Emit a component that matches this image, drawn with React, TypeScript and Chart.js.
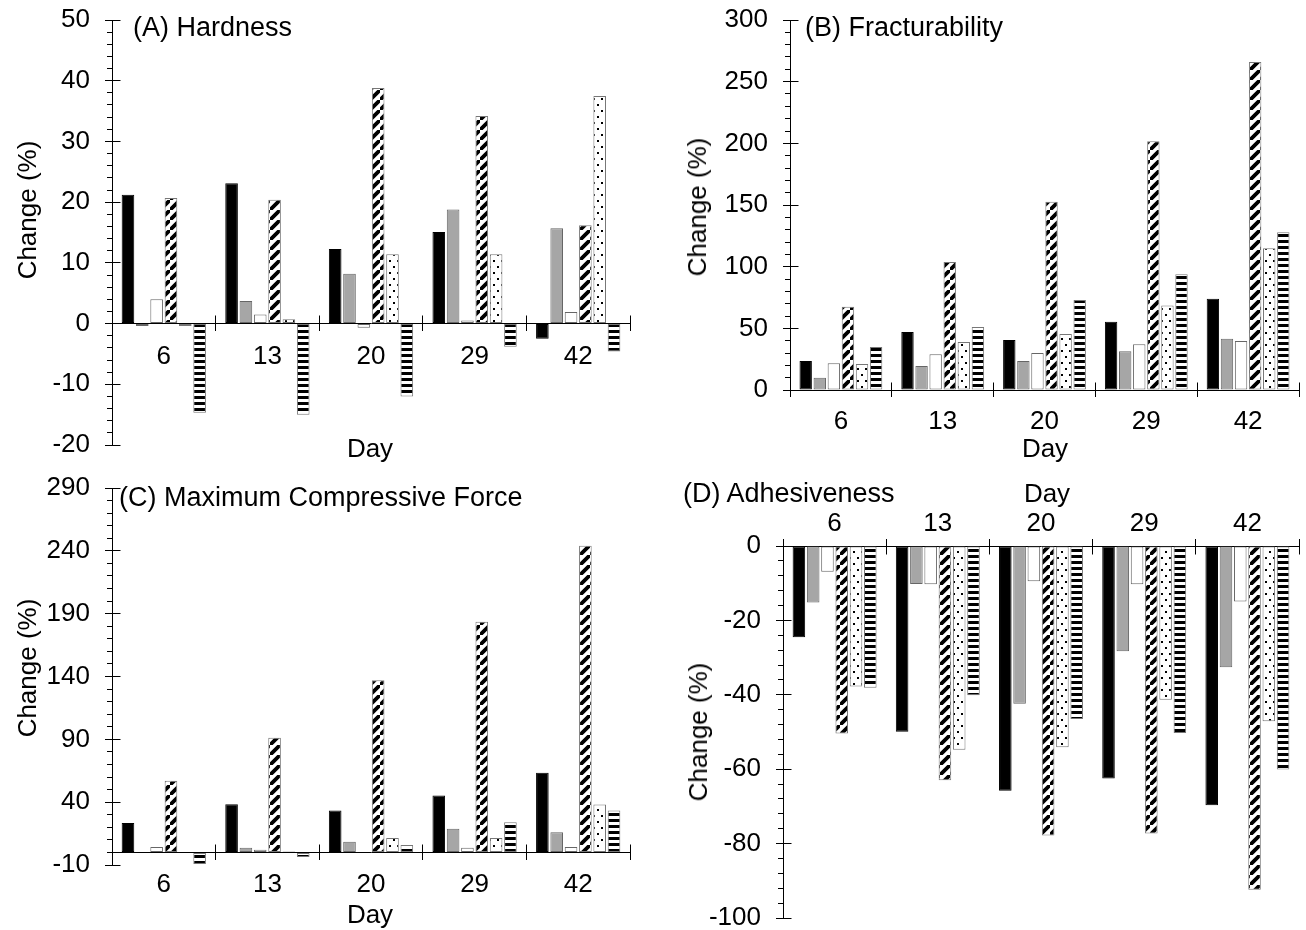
import React, { useEffect, useRef } from 'react';
import { Chart, registerables } from 'chart.js';

Chart.register(...registerables);

// ---------- data ----------
const days = ['6', '13', '20', '29', '42'];

// (A) Hardness
const hardBlack = [21.2, 23.1, 12.3, 15.1, -2.5];
const hardGray = [-0.4, 3.7, 8.2, 18.8, 15.7];
const hardWhite = [4.0, 1.5, -0.7, 0.5, 1.9];
const hardHatch = [20.7, 20.4, 38.8, 34.2, 16.2];
const hardDots = [-0.4, 0.7, 11.4, 11.4, 37.5];
const hardStripes = [-14.7, -15.0, -12.0, -3.8, -4.6];

// (B) Fracturability
const fracBlack = [23.5, 47, 40.5, 55.4, 74];
const fracGray = [10, 19.5, 23.5, 31.4, 41.6];
const fracWhite = [21.6, 28.9, 30, 37, 39.7];
const fracHatch = [67.6, 103.8, 152.7, 201.6, 266];
const fracDots = [21.1, 38.9, 45.4, 68.6, 115];
const fracStripes = [34.9, 51.1, 73, 93.8, 128];

// (C) Maximum Compressive Force
const mcfBlack = [23.5, 38.4, 33.3, 45.3, 63.5];
const mcfGray = [-0.5, 3.7, 8.5, 18.9, 16];
const mcfWhite = [4.3, 2.1, -0.5, 3.7, 4.3];
const mcfHatch = [57, 91.2, 137, 183.5, 244];
const mcfDots = [-0.5, 0.8, 11.5, 11.5, 38.1];
const mcfStripes = [-9.3, -3.7, 5.9, 24, 33.3];

// (D) Adhesiveness
const adhBlack = [-24.5, -49.9, -65.8, -62.5, -69.7];
const adhGray = [-15.2, -10.2, -42.4, -28.3, -32.6];
const adhWhite = [-6.9, -10.3, -9.5, -10.3, -14.9];
const adhHatch = [-50.4, -63, -77.8, -77.3, -92.4];
const adhDots = [-37.8, -54.8, -54.1, -41.3, -47.1];
const adhStripes = [-38.1, -40.1, -46.5, -50.3, -60.1];

// axis ranges / ticks
const hardTicks = { min: -20, max: 50, step: 2, majorStep: 10 };
const fracTicks = { min: 0, max: 300, step: 10, majorStep: 50 };
const mcfTicks = { min: -10, max: 290, step: 10, majorStep: 50 };
const adhTicks = { min: -100, max: 0, step: 4, majorStep: 20 };

const FONT = "'Liberation Sans', Arial, Helvetica, sans-serif";
const FS = 26;
const TITLE_FS = 27;

// ---------- patterns ----------
function makePatterns() {
  const base = document.createElement('canvas').getContext('2d') as CanvasRenderingContext2D;

  const H = 10;
  const h = document.createElement('canvas');
  h.width = H; h.height = H;
  const hg = h.getContext('2d') as CanvasRenderingContext2D;
  hg.fillStyle = '#fff'; hg.fillRect(0, 0, H, H);
  hg.strokeStyle = '#000'; hg.lineWidth = 3.8;
  hg.beginPath();
  hg.moveTo(-H, 2 * H); hg.lineTo(2 * H, -H);
  hg.moveTo(-2 * H, H); hg.lineTo(H, -2 * H);
  hg.moveTo(0, 3 * H); hg.lineTo(3 * H, 0);
  hg.stroke();

  const d = document.createElement('canvas');
  d.width = 8; d.height = 12;
  const dg = d.getContext('2d') as CanvasRenderingContext2D;
  dg.fillStyle = '#fff'; dg.fillRect(0, 0, 8, 12);
  dg.fillStyle = '#000';
  dg.fillRect(1, 2, 2, 2);
  dg.fillRect(5, 8, 2, 2);

  const s = document.createElement('canvas');
  s.width = 4; s.height = 6;
  const sg = s.getContext('2d') as CanvasRenderingContext2D;
  sg.fillStyle = '#fff'; sg.fillRect(0, 0, 4, 6);
  sg.fillStyle = '#000'; sg.fillRect(0, 0, 4, 3);

  return {
    hatch: base.createPattern(h, 'repeat'),
    dots: base.createPattern(d, 'repeat'),
    stripes: base.createPattern(s, 'repeat'),
  };
}

const al = (p: number) => Math.round(p - 0.5) + 0.5;

const crossTicks = {
  id: 'crossTicks',
  afterDraw(chart: any, _a: any, opts: any) {
    const { ctx, chartArea } = chart;
    const x = chart.scales.x;
    const y = chart.scales.y;
    ctx.save();
    ctx.strokeStyle = '#000';
    ctx.lineWidth = 1;
    ctx.beginPath();
    const ax = al(chartArea.left);
    const t = opts.ticks;
    for (let v = t.min; v <= t.max + 1e-9; v += t.majorStep) {
      const py = al(y.getPixelForValue(v));
      ctx.moveTo(ax - 7.5, py);
      ctx.lineTo(ax + 8, py);
    }
    const py0 = al(y.getPixelForValue(0));
    for (let i = 0; i <= days.length; i++) {
      const px = al(x.getPixelForValue(i - 0.5));
      ctx.moveTo(px, py0);
      ctx.lineTo(px, py0 + opts.dir * 8);
    }
    ctx.stroke();
    ctx.restore();
  },
};

type Panel = {
  left: number; top: number; width: number; height: number;
  yWidth: number; xHeight?: number;
  padding: { top: number; right: number; bottom: number; left: number };
  ticks: { min: number; max: number; step: number; majorStep: number };
  xPos: any; xPad: number; dir: number;
  series: number[][];
};

const panels: Panel[] = [
  {
    left: 0, top: 0, width: 660, height: 465, yWidth: 112,
    padding: { top: 20, right: 30, bottom: 20, left: 0 },
    ticks: hardTicks, xPos: { y: 0 }, xPad: 13, dir: -1,
    series: [hardBlack, hardGray, hardWhite, hardHatch, hardDots, hardStripes],
  },
  {
    left: 660, top: 0, width: 646, height: 465, yWidth: 130, xHeight: 75,
    padding: { top: 20, right: 7, bottom: 0, left: 0 },
    ticks: fracTicks, xPos: 'bottom', xPad: 12, dir: -1,
    series: [fracBlack, fracGray, fracWhite, fracHatch, fracDots, fracStripes],
  },
  {
    left: 0, top: 465, width: 660, height: 465, yWidth: 112,
    padding: { top: 23, right: 30, bottom: 65, left: 0 },
    ticks: mcfTicks, xPos: { y: 0 }, xPad: 12, dir: -1,
    series: [mcfBlack, mcfGray, mcfWhite, mcfHatch, mcfDots, mcfStripes],
  },
  {
    left: 660, top: 465, width: 646, height: 465, yWidth: 123, xHeight: 81,
    padding: { top: 0, right: 7, bottom: 12, left: 0 },
    ticks: adhTicks, xPos: 'top', xPad: 2, dir: 1,
    series: [adhBlack, adhGray, adhWhite, adhHatch, adhDots, adhStripes],
  },
];

function PanelChart({ p }: { p: Panel }) {
  const ref = useRef<HTMLCanvasElement | null>(null);
  useEffect(() => {
    const pat = makePatterns();
    const fills: any[] = ['#000000', '#a6a6a6', '#ffffff', pat.hatch, pat.dots, pat.stripes];
    const borders = ['#000000', '#666666', '#666666', '#777777', '#777777', '#777777'];
    const t = p.ticks;
    const isMajor = (v: number) => Math.abs(((v - t.min) / t.majorStep) - Math.round((v - t.min) / t.majorStep)) < 1e-6;
    const chart = new Chart(ref.current as HTMLCanvasElement, {
      type: 'bar',
      data: {
        labels: days,
        datasets: p.series.map((vals, i) => ({
          data: vals,
          backgroundColor: fills[i],
          borderColor: borders[i],
          borderWidth: 1,
          borderSkipped: false,
          categoryPercentage: 0.83,
          barPercentage: 0.88,
        })),
      },
      options: {
        responsive: false,
        animation: false,
        devicePixelRatio: 1,
        events: [],
        layout: { padding: p.padding },
        plugins: {
          legend: { display: false },
          tooltip: { enabled: false },
          title: { display: false },
          crossTicks: { ticks: t, dir: p.dir },
        } as any,
        scales: {
          x: {
            type: 'category',
            position: p.xPos,
            offset: true,
            grid: { display: true, offset: true, drawOnChartArea: false, drawTicks: true, tickLength: 7, color: '#000', lineWidth: 1 },
            border: { display: true, color: '#000', width: 1 },
            ticks: { color: '#000', font: { family: FONT, size: FS, lineHeight: 1 }, padding: p.xPad, maxRotation: 0, autoSkip: false },
            afterFit: (s: any) => {
              s.paddingLeft = 0; s.paddingRight = 0;
              if (p.xHeight) s.height = p.xHeight;
            },
          } as any,
          y: {
            type: 'linear',
            min: t.min,
            max: t.max,
            position: 'left',
            grid: { display: true, drawOnChartArea: false, drawTicks: true, tickLength: 5, color: '#000', lineWidth: 1 },
            border: { display: true, color: '#000', width: 1 },
            ticks: {
              stepSize: t.step,
              autoSkip: false,
              maxTicksLimit: 1000,
              color: '#000',
              font: { family: FONT, size: FS, lineHeight: 1 },
              padding: 17,
              callback: (v: any) => (isMajor(Number(v)) ? String(Math.round(Number(v))) : ''),
            },
            afterFit: (s: any) => {
              s.width = p.yWidth; s.paddingTop = 0; s.paddingBottom = 0;
            },
          } as any,
        },
      },
      plugins: [crossTicks as any],
    });
    return () => chart.destroy();
  }, []);
  return (
    <canvas
      ref={ref}
      width={p.width}
      height={p.height}
      style={{ position: 'absolute', left: p.left, top: p.top, width: p.width, height: p.height }}
    />
  );
}

const txt: React.CSSProperties = {
  position: 'absolute',
  fontFamily: FONT,
  lineHeight: 1,
  color: '#000',
  whiteSpace: 'nowrap',
};

function Label({ x, y, text, rotate, anchor, size }: { x: number; y: number; text: string; rotate?: boolean; anchor?: 'left' | 'center'; size?: number }) {
  const tx = anchor === 'left' ? '0' : '-50%';
  return (
    <div style={{ ...txt, fontSize: size || FS, left: x, top: y, transform: `translate(${tx}, -50%)${rotate ? ' rotate(-90deg)' : ''}`, transformOrigin: rotate ? '50% 50%' : undefined }}>
      {text}
    </div>
  );
}

export default function App() {
  return (
    <div style={{ position: 'absolute', left: 0, top: 0, width: 1306, height: 930, background: '#fff', overflow: 'hidden' }}>
      {panels.map((p, i) => <PanelChart key={i} p={p} />)}
      <Label x={133} y={27} text="(A) Hardness" anchor="left" size={TITLE_FS} />
      <Label x={805} y={27} text="(B) Fracturability" anchor="left" size={TITLE_FS} />
      <Label x={119} y={497} text="(C) Maximum Compressive Force" anchor="left" size={TITLE_FS} />
      <Label x={683} y={493} text="(D) Adhesiveness" anchor="left" size={TITLE_FS} />
      <Label x={370} y={448} text="Day" />
      <Label x={1045} y={448} text="Day" />
      <Label x={370} y={914} text="Day" />
      <Label x={1047} y={493} text="Day" />
      <Label x={27} y={210} text="Change (%)" rotate />
      <Label x={697} y={207} text="Change (%)" rotate />
      <Label x={27} y={668} text="Change (%)" rotate />
      <Label x={698} y={732} text="Change (%)" rotate />
    </div>
  );
}
